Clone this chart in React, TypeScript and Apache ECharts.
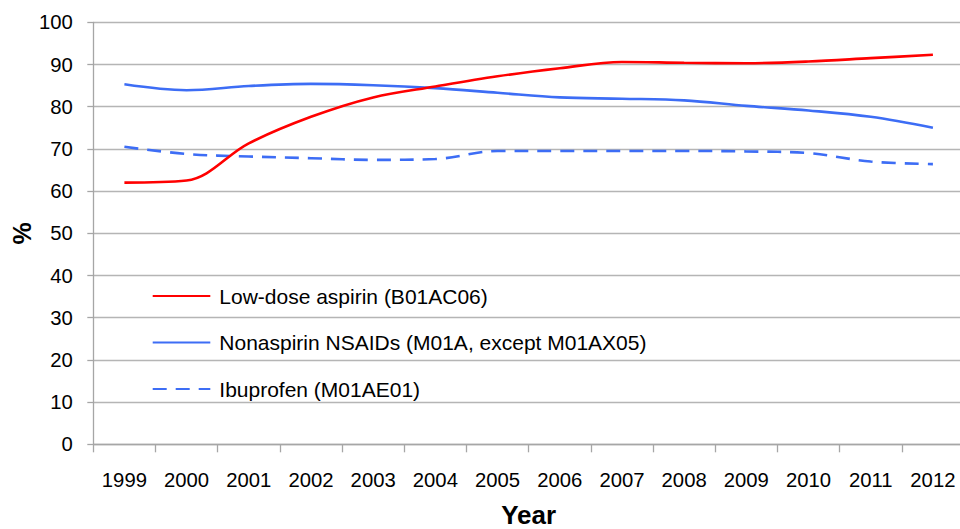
import React, { useEffect, useRef } from "react";
import * as echarts from "echarts";

const years = ["1999", "2000", "2001", "2002", "2003", "2004", "2005", "2006", "2007", "2008", "2009", "2010", "2011", "2012"];
const lowDoseAspirin = [62.0, 62.5, 71.3, 77.6, 82.2, 84.8, 87.2, 89.1, 90.6, 90.4, 90.3, 90.7, 91.5, 92.3];
const nonaspirinNSAIDs = [85.3, 83.9, 84.9, 85.4, 85.1, 84.4, 83.3, 82.2, 81.9, 81.5, 80.2, 79.1, 77.6, 75.0];
const ibuprofen = [70.5, 68.8, 68.2, 67.8, 67.4, 67.6, 69.5, 69.5, 69.5, 69.5, 69.4, 69.0, 67.0, 66.4];

const seriesNames = [
  "Low-dose aspirin (B01AC06)",
  "Nonaspirin NSAIDs (M01A, except M01AX05)",
  "Ibuprofen (M01AE01)",
];

const FONT = "'Liberation Sans', Arial, sans-serif";

export default function App() {
  const ref = useRef<HTMLDivElement>(null);
  useEffect(() => {
    if (!ref.current) return;
    const chart = echarts.init(ref.current, undefined, { renderer: "svg" });
    chart.setOption({
      animation: false,
      backgroundColor: "#ffffff",
      textStyle: { fontFamily: FONT },
      grid: { left: 93.3, right: -4, top: 22.3, bottom: 84.7, containLabel: false, outerBoundsMode: "none" },
      legend: {
        orient: "vertical",
        left: 151.7,
        top: 285,
        padding: 0,
        itemWidth: 57.6,
        itemHeight: 14,
        itemGap: 24.5,
        itemStyle: { opacity: 0 },
        textStyle: { fontSize: 21, color: "#000", fontFamily: FONT, padding: [0, 0, 0, 4], lineHeight: 22 },
        data: seriesNames,
      },
      xAxis: {
        type: "category",
        data: years,
        boundaryGap: true,
        axisLine: { lineStyle: { color: "#a6a6a6", width: 1.3 } },
        axisTick: { show: true, length: 8, lineStyle: { color: "#a6a6a6", width: 1.3 } },
        axisLabel: { fontSize: 20.3, color: "#000", margin: 25.5, fontFamily: FONT },
        name: "Year",
        nameLocation: "middle",
        nameGap: 58,
        nameMoveOverlap: false,
        nameTextStyle: { fontSize: 26, fontWeight: "bold", color: "#000", fontFamily: FONT },
        splitLine: { show: false },
      },
      yAxis: {
        type: "value",
        min: 0,
        max: 100,
        interval: 10,
        axisLine: { show: true, lineStyle: { color: "#a6a6a6", width: 1.3 } },
        axisTick: { show: true, length: 6, lineStyle: { color: "#a6a6a6", width: 1.3 } },
        axisLabel: { fontSize: 20.3, color: "#000", margin: 20.5, fontFamily: FONT },
        splitLine: { show: true, lineStyle: { color: "#b5b5b5", width: 1.3 } },
        name: "%",
        nameLocation: "middle",
        nameGap: 58.5,
        nameMoveOverlap: false,
        nameRotate: 90,
        nameTextStyle: { fontSize: 25, fontWeight: "bold", color: "#000", fontFamily: FONT },
      },
      series: [
        {
          name: seriesNames[0],
          type: "line",
          data: lowDoseAspirin,
          smooth: 0.35,
          symbol: "none",
          lineStyle: { color: "#ff0000", width: 2.6 },
          itemStyle: { color: "#ff0000" },
          z: 3,
        },
        {
          name: seriesNames[1],
          type: "line",
          data: nonaspirinNSAIDs,
          smooth: 0.35,
          symbol: "none",
          lineStyle: { color: "#3d6df5", width: 2.6 },
          itemStyle: { color: "#3d6df5" },
          z: 2,
        },
        {
          name: seriesNames[2],
          type: "line",
          data: ibuprofen,
          smooth: 0.35,
          symbol: "none",
          lineStyle: { color: "#3d6df5", width: 2.6, type: [14, 9] },
          itemStyle: { color: "#3d6df5" },
          z: 2,
        },
      ],
    });
    return () => chart.dispose();
  }, []);
  return <div ref={ref} style={{ width: 960, height: 529, position: "absolute", left: 0, top: 0 }} />;
}
